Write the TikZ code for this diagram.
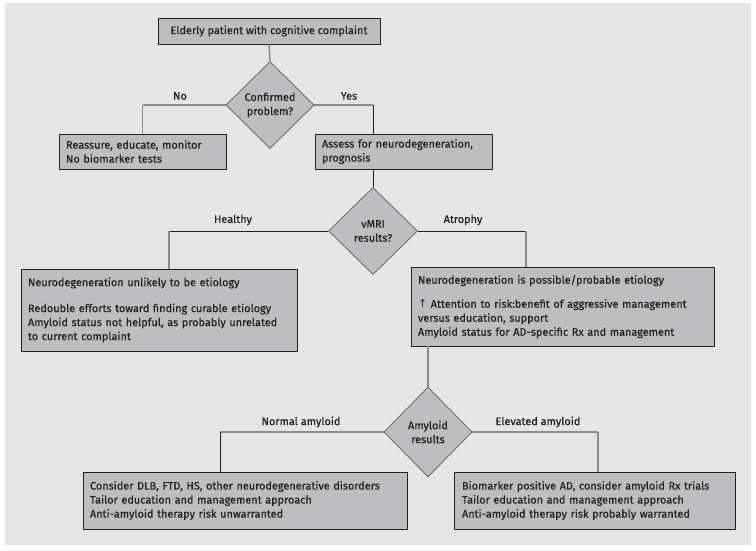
\documentclass[tikz,border=0pt]{standalone}
\usepackage{fontspec}
\setmainfont{Fira Sans}[UprightFeatures={FakeBold=0.6}]
\newfontfamily\symfont{DejaVu Sans}
\usetikzlibrary{shapes.geometric}
\definecolor{panel}{HTML}{E6E6E6}
\definecolor{boxfill}{HTML}{BDBEC0}
\definecolor{ink}{HTML}{231F20}
\definecolor{dborder}{HTML}{58595B}
\definecolor{glinecol}{HTML}{8C8C8C}
\tikzset{
  every node/.style={font=\fontsize{10.9}{14}\selectfont, text=ink},
  boxnode/.style={draw=ink, line width=0.9pt, fill=boxfill, inner xsep=7pt, inner ysep=0pt, align=left},
  dia/.style={shape=diamond, draw=dborder, line width=0.7pt, fill=boxfill, inner sep=0pt, align=center},
  glink/.style={draw=glinecol, line width=1.4pt},
  dlink/.style={draw=ink, line width=0.9pt},
  lbl/.style={inner sep=0pt}
}
\begin{document}
\begin{tikzpicture}[x=1pt,y=-1pt]
\useasboundingbox (0,0) rectangle (756,550);
\fill[white] (0,0) rectangle (756,550);
\fill[panel] (5,3) rectangle (751,545);

% boxes
\node[boxnode, align=center, minimum width=222pt, minimum height=26pt] (top) at (269,31) {Elderly patient with cognitive complaint};
\node[dia, minimum width=88pt, minimum height=87pt] (d1) at (270,105) {Confirmed\\problem?};
\node[boxnode, text width=153pt, minimum height=35pt] (reassure) at (142.5,151.5) {Reassure, educate, monitor\\No biomarker tests};
\node[boxnode, text width=163pt, minimum height=35pt] (assess) at (403.5,151.5) {Assess for neurodegeneration,\\prognosis};
\node[dia, minimum width=89pt, minimum height=87pt] (d2) at (373,231) {vMRI\\results?};
\node[boxnode, text width=262pt, minimum height=82pt] (healthy) at (159,310) {Neurodegeneration unlikely to be etiology\\[12pt]Redouble efforts toward finding curable etiology\\\mbox{Amyloid status not helpful, as probably unrelated}\\to current complaint};
\node[boxnode, text width=289pt, minimum height=79pt] (atrophy) at (562.5,306.5) {Neurodegeneration is possible/probable etiology\\[10pt]\mbox{{\symfont ↑} Attention to risk:benefit of aggressive management}\\versus education, support\\\mbox{Amyloid status for AD-specific Rx and management}};
\node[dia, minimum width=88pt, minimum height=90pt] (d3) at (428,432) {Amyloid\\results};
\node[boxnode, text width=310pt, minimum height=57pt] (normal) at (245,500.5) {\mbox{Consider DLB, FTD, HS, other neurodegenerative disorders}\\Tailor education and management approach\\Anti-amyloid therapy risk unwarranted};
\node[boxnode, text width=265pt, minimum height=57pt, inner xsep=8pt] (elevated) at (594.5,500.5) {\mbox{Biomarker positive AD, consider amyloid Rx trials}\\Tailor education and management approach\\Anti-amyloid therapy risk probably warranted};

% labels
\node[lbl] (lno) at (180,96) {No};
\node[lbl] (lyes) at (349,96) {Yes};
\node[lbl] (lhealthy) at (233,220) {Healthy};
\node[lbl] (latrophy) at (463,220) {Atrophy};
\node[lbl] (lnormal) at (301,422) {Normal amyloid};
\node[lbl] (lelevated) at (538,422) {Elevated amyloid};

% corners
\coordinate (cno) at (reassure.north |- d1.west);
\coordinate (cyes) at (373,105);
\coordinate (chealthy) at (169,231);
\coordinate (catrophy) at (526,231);
\coordinate (cnormal) at (220,432);
\coordinate (celevated) at (598,432);

% connectors
\draw[glink] (top.south) -- (d1.north);
\draw[glink] (d1.west) -- (cno);
\draw[glink] (cno) -- (reassure.north);
\draw[glink] (d1.east) -- (cyes);
\draw[dlink] (cyes) -- (cyes |- assess.north);
\draw[dlink] (d2.north |- assess.south) -- (d2.north);
\draw[dlink] (d2.west) -- (chealthy);
\draw[glink] (chealthy) -- (chealthy |- healthy.north);
\draw[dlink] (d2.east) -- (catrophy);
\draw[glink] (catrophy) -- (catrophy |- atrophy.north);
\draw[glink] (d3.north |- atrophy.south) -- (d3.north);
\draw[glink] (d3.west) -- (cnormal);
\draw[dlink] (cnormal) -- (cnormal |- normal.north);
\draw[glink] (d3.east) -- (celevated);
\draw[glink] (celevated) -- (celevated |- elevated.north);
\end{tikzpicture}
\end{document}
